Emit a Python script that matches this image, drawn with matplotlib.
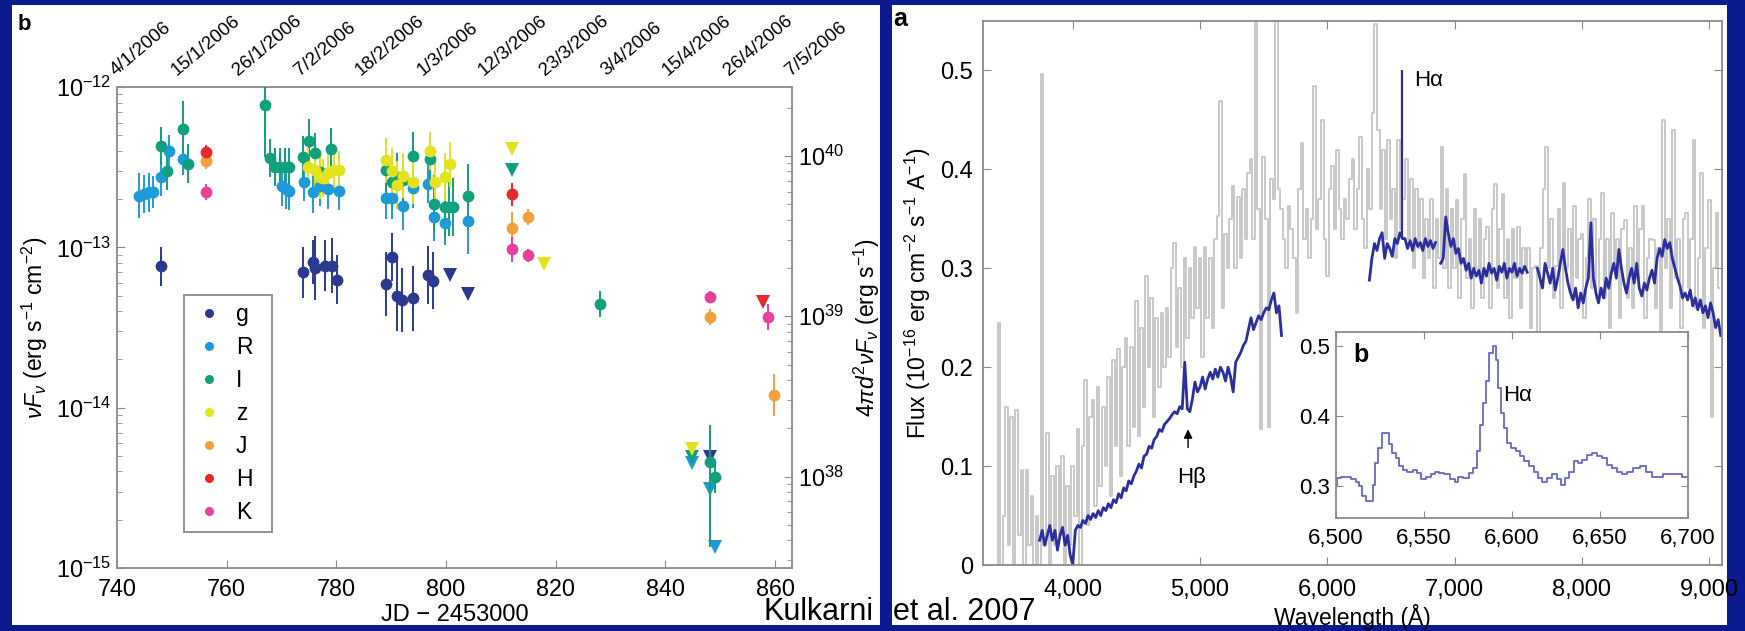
import numpy as np
import matplotlib
matplotlib.use("Agg")
import matplotlib.pyplot as plt
from matplotlib.patches import Rectangle
from matplotlib.lines import Line2D
from matplotlib.transforms import blended_transform_factory
from matplotlib.ticker import FuncFormatter, LogLocator, NullFormatter

plt.rcParams['font.family'] = ['Liberation Sans', 'DejaVu Sans']
plt.rcParams['mathtext.fontset'] = 'custom'
plt.rcParams['mathtext.rm'] = 'Liberation Sans'
plt.rcParams['mathtext.it'] = 'Liberation Sans:italic'
plt.rcParams['mathtext.bf'] = 'Liberation Sans:bold'

# ---------------- panel b (left): light curve ----------------
bands = ['g', 'R', 'I', 'z', 'J', 'H', 'K']
band_colors = ['#2b3990', '#1e9bd7', '#11a07c', '#e4e21e', '#f4a03a', '#e8282b', '#e8409c']

g_jd = [748.1, 774.0, 775.8, 776.1, 777.9, 779.2, 780.1, 789.1, 790.1, 791.0, 791.9, 794.0, 796.8, 797.7]
g_flux = [7.6e-14, 7.0e-14, 8.1e-14, 7.4e-14, 7.7e-14, 7.7e-14, 6.3e-14, 5.9e-14, 8.7e-14, 5.0e-14,
          4.7e-14, 4.8e-14, 6.7e-14, 6.2e-14]
g_err = [0.12, 0.16, 0.14, 0.2, 0.16, 0.17, 0.15, 0.2, 0.15, 0.22, 0.2, 0.2, 0.18, 0.18]
g_ul_jd = [800.7, 804.1, 848.2]
g_ul_flux = [6.7e-14, 5.1e-14, 4.9e-15]

R_jd = [744.1, 745.0, 745.8, 746.5, 748.1, 749.4, 752.1, 770.0, 770.8, 771.4, 774.1, 775.8, 777.0,
        778.5, 780.4, 789.1, 790.1, 792.1, 794.0, 796.8, 797.9, 799.8, 804.1]
R_flux = [2.1e-13, 2.15e-13, 2.2e-13, 2.22e-13, 2.75e-13, 4.0e-13, 3.55e-13, 2.4e-13, 2.3e-13, 2.24e-13,
          2.57e-13, 2.2e-13, 2.4e-13, 2.3e-13, 2.24e-13, 2.04e-13, 2.04e-13, 1.8e-13, 2.33e-13, 2.5e-13,
          1.55e-13, 1.42e-13, 1.45e-13]
R_err = [0.14, 0.12, 0.12, 0.1, 0.12, 0.1, 0.1, 0.12, 0.12, 0.12, 0.12, 0.13, 0.12, 0.12, 0.12, 0.13,
         0.13, 0.15, 0.12, 0.12, 0.15, 0.14, 0.2]
R_ul_jd = [844.9, 848.2, 849.0]
R_ul_flux = [4.5e-15, 3.1e-15, 1.35e-15]

I_jd = [748.1, 749.2, 752.1, 753.0, 767.0, 767.9, 768.8, 769.7, 770.6, 771.4, 774.0, 775.1, 776.1,
        777.0, 779.0, 789.1, 790.1, 791.0, 792.1, 794.0, 797.0, 797.8, 799.8, 800.6, 801.2, 804.1,
        828.0, 848.2, 849.0]
I_flux = [4.3e-13, 3.0e-13, 5.5e-13, 3.33e-13, 7.7e-13, 3.6e-13, 3.17e-13, 3.17e-13, 3.17e-13, 3.17e-13,
          3.67e-13, 4.6e-13, 3.9e-13, 2.95e-13, 4.1e-13, 3.05e-13, 2.57e-13, 2.75e-13, 2.63e-13, 3.7e-13,
          3.58e-13, 1.86e-13, 1.78e-13, 1.78e-13, 1.78e-13, 2.1e-13, 4.45e-14, 4.6e-15, 3.7e-15]
I_err_lo = [0.12, 0.12, 0.17, 0.12, 0.32, 0.12, 0.12, 0.12, 0.12, 0.12, 0.13, 0.14, 0.12, 0.12, 0.13,
            0.15, 0.15, 0.15, 0.15, 0.15, 0.15, 0.18, 0.18, 0.18, 0.18, 0.2, 0.08, 0.53, 0.1]
I_err_hi = [0.12, 0.12, 0.17, 0.12, 0.25, 0.12, 0.12, 0.12, 0.12, 0.12, 0.13, 0.14, 0.12, 0.12, 0.13,
            0.15, 0.15, 0.15, 0.15, 0.15, 0.15, 0.18, 0.18, 0.18, 0.18, 0.2, 0.08, 0.23, 0.1]
I_ul_jd = [812.0, 844.9]
I_ul_flux = [3.05e-13, 4.9e-15]

z_jd = [774.9, 776.1, 777.0, 777.6, 778.5, 779.5, 780.4, 789.1, 790.1, 791.0, 792.1, 794.0, 797.0,
        798.0, 799.8, 800.7]
z_flux = [3.15e-13, 3.03e-13, 2.75e-13, 2.7e-13, 2.9e-13, 3.03e-13, 3.03e-13, 3.5e-13, 3.0e-13, 2.45e-13,
          2.8e-13, 2.57e-13, 4.0e-13, 2.57e-13, 2.75e-13, 3.3e-13]
z_err = [0.12, 0.12, 0.14, 0.12, 0.13, 0.12, 0.12, 0.14, 0.14, 0.15, 0.14, 0.14, 0.12, 0.15, 0.15, 0.14]
z_ul_jd = [812.0, 817.9, 844.9]
z_ul_flux = [4.1e-13, 7.9e-14, 5.5e-15]

J_jd = [756.3, 812.0, 814.9, 848.2, 859.8]
J_flux = [3.45e-13, 1.32e-13, 1.55e-13, 3.67e-14, 1.2e-14]
J_err = [0.05, 0.1, 0.05, 0.05, 0.13]

H_jd = [756.3, 812.0]
H_flux = [3.95e-13, 2.14e-13]
H_err = [0.04, 0.07]
H_ul_jd = [857.8]
H_ul_flux = [4.57e-14]

K_jd = [756.3, 812.0, 814.9, 848.2, 858.7]
K_flux = [2.2e-13, 9.7e-14, 8.9e-14, 4.9e-14, 3.67e-14]
K_err = [0.05, 0.08, 0.04, 0.04, 0.08]

date_labels = ['4/1/2006', '15/1/2006', '26/1/2006', '7/2/2006', '18/2/2006', '1/3/2006',
               '12/3/2006', '23/3/2006', '3/4/2006', '15/4/2006', '26/4/2006', '7/5/2006']
date_jd = [739.5, 750.5, 761.5, 772.5, 783.5, 794.5, 805.5, 816.5, 827.5, 838.5, 849.5, 860.5]

# ---------------- panel a (right): spectrum ----------------
# blue (binned) spectrum, 20 A sampling, four pieces
blue1_start = 3740
blue1_flux = [0.025, 0.035, 0.02, 0.03, 0.04, 0.025, 0.035, 0.015, 0.03, 0.038, 0.02, 0.03, 0.01,
              0.0, 0.035, 0.04, 0.038, 0.045, 0.042, 0.05, 0.046, 0.052, 0.048,
              0.055, 0.05, 0.058, 0.055, 0.062, 0.058, 0.066, 0.063, 0.072, 0.068,
              0.078, 0.075, 0.085, 0.082, 0.09, 0.095, 0.102, 0.098, 0.11, 0.112,
              0.12, 0.118, 0.127, 0.13, 0.137, 0.135, 0.142, 0.145, 0.148, 0.152,
              0.155, 0.153, 0.16, 0.158, 0.205, 0.158, 0.155, 0.168, 0.185, 0.175,
              0.18, 0.19, 0.178, 0.188, 0.195, 0.188, 0.198, 0.19, 0.2, 0.195,
              0.186, 0.2, 0.19, 0.175, 0.205, 0.21, 0.215, 0.222, 0.226, 0.238,
              0.25, 0.238, 0.245, 0.252, 0.248, 0.255, 0.26, 0.258, 0.268, 0.275,
              0.255, 0.262, 0.232]
blue2_start = 6330
blue2_flux = [0.288, 0.31, 0.325, 0.318, 0.33, 0.336, 0.31, 0.325, 0.32, 0.312, 0.33, 0.325, 0.336,
              0.33, 0.33, 0.32, 0.328, 0.318, 0.33, 0.322, 0.326, 0.318, 0.33, 0.322, 0.328, 0.32, 0.326]
blue3_start = 6890
blue3_flux = [0.305, 0.31, 0.352, 0.335, 0.322, 0.33, 0.315, 0.32, 0.305, 0.31,
              0.298, 0.305, 0.29, 0.3, 0.292, 0.298, 0.285, 0.3, 0.292, 0.305,
              0.295, 0.3, 0.288, 0.302, 0.296, 0.305, 0.29, 0.3, 0.296, 0.305,
              0.292, 0.3, 0.295, 0.302, 0.296]
blue4_start = 7650
blue4_flux = [0.3, 0.29, 0.28, 0.305, 0.295, 0.285, 0.3, 0.278, 0.29, 0.305,
              0.319, 0.3, 0.285, 0.275, 0.268, 0.28, 0.26, 0.275, 0.265, 0.28,
              0.29, 0.346, 0.29, 0.275, 0.265, 0.28, 0.27, 0.29, 0.28, 0.295,
              0.305, 0.29, 0.319, 0.3, 0.285, 0.275, 0.29, 0.3, 0.285, 0.305,
              0.28, 0.272, 0.285, 0.278, 0.29, 0.298, 0.285, 0.31, 0.32, 0.312,
              0.329, 0.32, 0.326, 0.31, 0.3, 0.29, 0.282, 0.27, 0.275, 0.268,
              0.278, 0.262, 0.27, 0.258, 0.268, 0.255, 0.262, 0.25, 0.265, 0.255,
              0.24, 0.248, 0.232]
blue_step = 20
halpha_line_wave = 6585
halpha_line_base = 0.33
halpha_line_peak = 0.50

# grey (unbinned, noisy) spectrum, 20 A sampling
grey_start = 3400
grey_step = 20
grey_flux = [0.0, 0.245, 0.0, 0.05, 0.16, 0.02, 0.15, 0.0, 0.157, 0.03,
             0.096, 0.0, 0.096, 0.02, 0.07, 0.0, 0.05, 0.0, 0.496, 0.02,
             0.133, 0.0, 0.09, 0.02, 0.1, 0.03, 0.11, 0.0, 0.08, 0.02,
             0.1, 0.05, 0.137, 0.0, 0.12, 0.187, 0.04, 0.15, 0.167, 0.06,
             0.18, 0.08, 0.16, 0.1, 0.19, 0.07, 0.207, 0.12, 0.218, 0.09,
             0.2, 0.229, 0.12, 0.22, 0.14, 0.267, 0.13, 0.24, 0.16, 0.292,
             0.2, 0.27, 0.15, 0.25, 0.18, 0.255, 0.2, 0.26, 0.21, 0.3,
             0.326, 0.22, 0.28, 0.2, 0.31, 0.23, 0.3, 0.25, 0.322, 0.26,
             0.31, 0.21, 0.322, 0.25, 0.31, 0.24, 0.33, 0.353, 0.469, 0.26,
             0.335, 0.3, 0.35, 0.383, 0.3, 0.372, 0.31, 0.38, 0.33, 0.396,
             0.41, 0.33, 0.56, 0.36, 0.137, 0.413, 0.35, 0.14, 0.39, 0.37,
             0.56, 0.38, 0.36, 0.33, 0.3, 0.363, 0.34, 0.31, 0.255, 0.38,
             0.427, 0.33, 0.36, 0.31, 0.35, 0.484, 0.34, 0.37, 0.45, 0.33,
             0.292, 0.38, 0.403, 0.34, 0.42, 0.36, 0.33, 0.37, 0.35, 0.39,
             0.41, 0.34, 0.38, 0.433, 0.35, 0.32, 0.4, 0.36, 0.457, 0.547,
             0.44, 0.36, 0.42, 0.33, 0.43, 0.35, 0.38, 0.31, 0.43, 0.34,
             0.37, 0.41, 0.33, 0.39, 0.3, 0.38, 0.32, 0.37, 0.29, 0.35,
             0.31, 0.37, 0.28, 0.35, 0.31, 0.423, 0.3, 0.38, 0.28, 0.36,
             0.3, 0.369, 0.27, 0.35, 0.395, 0.29, 0.33, 0.26, 0.36, 0.3,
             0.35, 0.27, 0.33, 0.342, 0.26, 0.36, 0.385, 0.28, 0.34, 0.375,
             0.27, 0.33, 0.25, 0.34, 0.29, 0.342, 0.26, 0.32, 0.3, 0.32,
             0.24, 0.3, 0.302, 0.21, 0.32, 0.38, 0.423, 0.3, 0.35, 0.27,
             0.302, 0.36, 0.26, 0.386, 0.3, 0.34, 0.27, 0.363, 0.29, 0.33,
             0.335, 0.25, 0.31, 0.37, 0.28, 0.35, 0.27, 0.33, 0.376, 0.27,
             0.33, 0.24, 0.356, 0.3, 0.33, 0.25, 0.34, 0.349, 0.27, 0.32,
             0.26, 0.363, 0.29, 0.34, 0.363, 0.25, 0.31, 0.33, 0.329, 0.26,
             0.32, 0.22, 0.45, 0.3, 0.35, 0.26, 0.44, 0.29, 0.33, 0.24,
             0.35, 0.356, 0.28, 0.33, 0.43, 0.26, 0.31, 0.396, 0.24, 0.32,
             0.369, 0.15, 0.3, 0.356, 0.28]

# inset: zoom around H-alpha
inset_wave = [6500, 6501.5, 6504, 6507, 6510, 6512.5, 6514, 6516, 6518, 6520, 6521.5, 6523, 6525,
              6527, 6529.5, 6531, 6533, 6535, 6537, 6539, 6542, 6545, 6547, 6550, 6552.5, 6555,
              6557, 6560, 6563, 6566.5, 6568.5, 6570.5, 6574, 6577, 6579, 6581, 6583, 6584.5,
              6586, 6588, 6590, 6591.5, 6593, 6594.5, 6596, 6598, 6601, 6603.5, 6605.5, 6608,
              6611, 6614, 6616, 6618.5, 6621.5, 6624.5, 6627, 6629, 6631, 6634, 6636, 6638.5,
              6641.5, 6644, 6647, 6650, 6652.5, 6655.5, 6658.5, 6661, 6664, 6667, 6670.5, 6674.5,
              6678, 6681, 6684, 6688, 6693, 6700]
inset_flux = [0.300, 0.312, 0.314, 0.314, 0.310, 0.307, 0.300, 0.286, 0.279, 0.279, 0.302, 0.333,
              0.355, 0.376, 0.376, 0.360, 0.348, 0.340, 0.329, 0.324, 0.321, 0.324, 0.319, 0.310,
              0.314, 0.317, 0.321, 0.319, 0.317, 0.310, 0.307, 0.314, 0.312, 0.319, 0.326, 0.350,
              0.388, 0.419, 0.450, 0.490, 0.500, 0.480, 0.440, 0.405, 0.383, 0.362, 0.355, 0.350,
              0.343, 0.336, 0.329, 0.321, 0.312, 0.307, 0.312, 0.317, 0.310, 0.302, 0.312, 0.321,
              0.336, 0.333, 0.338, 0.345, 0.348, 0.343, 0.340, 0.331, 0.326, 0.321, 0.317, 0.321,
              0.326, 0.329, 0.321, 0.314, 0.314, 0.317, 0.317, 0.314]

# ---------------- layout helpers (image pixel coords) ----------------
W, H = 1745, 631
BG = '#0b1a8e'
SPINE = '#8a8a8a'
BLUE = '#2c2e9e'


def box(x0, y0, x1, y1):
    return [x0 / W, 1 - y1 / H, (x1 - x0) / W, (y1 - y0) / H]


def grey_spines(a):
    for s in a.spines.values():
        s.set_color(SPINE)
        s.set_linewidth(1.3)


def comma(v, pos):
    return f'{int(round(v)):,}'


fig = plt.figure(figsize=(W / 100, H / 100), dpi=100)
fig.patch.set_facecolor(BG)
fig.patches.append(Rectangle((12 / W, 1 - 625 / H), 868 / W, 620 / H, transform=fig.transFigure,
                             facecolor='white', edgecolor='none', zorder=-5))
fig.patches.append(Rectangle((892 / W, 1 - 625 / H), 835 / W, 620 / H, transform=fig.transFigure,
                             facecolor='white', edgecolor='none', zorder=-5))

# ---------------- left panel ----------------
ax = fig.add_axes(box(117, 87, 792, 568))
ax.set_yscale('log')

det = {
    'g': (g_jd, g_flux, g_err, g_err),
    'R': (R_jd, R_flux, R_err, R_err),
    'I': (I_jd, I_flux, I_err_lo, I_err_hi),
    'z': (z_jd, z_flux, z_err, z_err),
    'J': (J_jd, J_flux, J_err, J_err),
    'H': (H_jd, H_flux, H_err, H_err),
    'K': (K_jd, K_flux, K_err, K_err),
}
ulim = {'g': (g_ul_jd, g_ul_flux), 'R': (R_ul_jd, R_ul_flux), 'I': (I_ul_jd, I_ul_flux),
        'z': (z_ul_jd, z_ul_flux), 'H': (H_ul_jd, H_ul_flux)}

handles = []
for name, col in zip(bands, band_colors):
    jd, flux, elo, ehi = det[name]
    flux = np.array(flux)
    lo = flux - flux * 10 ** (-np.array(elo))
    hi = flux * 10 ** np.array(ehi) - flux
    ax.errorbar(jd, flux, yerr=[lo, hi], fmt='o', ms=8.5, color=col, ecolor=col, elinewidth=1.4,
                capsize=0, mew=0, zorder=3)
    if name in ulim:
        ax.plot(ulim[name][0], ulim[name][1], 'v', ms=9.5, color=col, mew=0, zorder=3)
    handles.append(Line2D([], [], marker='o', ls='none', ms=6.5, color=col, mew=0, label=name))

ax.set_xlim(740, 863.1)
ax.set_ylim(1e-15, 1e-12)
ax.set_xticks([740, 760, 780, 800, 820, 840, 860])
ax.yaxis.set_major_locator(LogLocator(base=10, numticks=10))
ax.yaxis.set_minor_locator(LogLocator(base=10, subs=np.arange(2, 10), numticks=20))
ax.yaxis.set_minor_formatter(NullFormatter())
ax.tick_params(which='both', direction='in', color=SPINE, labelsize=16.8, top=False, right=False)
ax.tick_params(which='major', length=6)
ax.tick_params(which='minor', length=3.5)
ax.tick_params(axis='x', pad=7)
ax.tick_params(axis='y', pad=4)
grey_spines(ax)

ax.set_xlabel('JD − 2453000', fontsize=17, va='center')
ax.xaxis.set_label_coords(0.5, -0.098)
ax.set_ylabel(r'$\nu F_\nu$ (erg s$^{-1}$ cm$^{-2}$)', fontsize=16.5, va='center')
ax.yaxis.set_label_coords(-0.121, 0.5)

leg = ax.legend(handles=handles, loc='upper left', bbox_to_anchor=(0.0993, 0.079, 0.1303, 0.4886),
                mode='expand', borderaxespad=0, fontsize=16.5, handlelength=1.4, handletextpad=0.5,
                labelspacing=0.43, borderpad=0.37, fancybox=False, framealpha=1,
                edgecolor=SPINE, numpoints=1)
leg.get_frame().set_linewidth(1.3)

ax2 = ax.twinx()
ax2.set_yscale('log')
ax2.set_ylim(10 ** 37.43, 10 ** 40.43)
ax2.yaxis.set_major_locator(LogLocator(base=10, numticks=10))
ax2.yaxis.set_minor_locator(LogLocator(base=10, subs=np.arange(2, 10), numticks=20))
ax2.yaxis.set_minor_formatter(NullFormatter())
ax2.tick_params(which='both', direction='in', color=SPINE, labelsize=16.8, pad=4)
ax2.tick_params(which='major', length=6)
ax2.tick_params(which='minor', length=3.5)
ax2.set_frame_on(False)
ax2.set_ylabel(r'$4\pi d^2\nu F_\nu$ (erg s$^{-1}$)', fontsize=16.5, va='center')
ax2.yaxis.set_label_coords(1.111, 0.5)

# calendar dates along the top (slanted)
ax3 = ax.twiny()
ax3.set_xlim(739.32, 860.3)
ax3.set_xticks([])
ax3.set_frame_on(False)
date_tr = blended_transform_factory(ax3.transData, ax3.transAxes)
for jd, lab in zip(date_jd, date_labels):
    ax3.text(jd, 1.0 + 8 / 481, lab, transform=date_tr, rotation=40, rotation_mode='anchor',
             ha='left', va='bottom', fontsize=13.5, clip_on=False)

# ---------------- right panel ----------------
axr = fig.add_axes(box(983, 21, 1722, 565))
grey_wave = grey_start + grey_step * np.arange(len(grey_flux))
axr.plot(grey_wave, grey_flux, drawstyle='steps-mid', color='#c8c8c8', lw=1.4, zorder=1)
for start, flux in [(blue1_start, blue1_flux), (blue2_start, blue2_flux),
                    (blue3_start, blue3_flux), (blue4_start, blue4_flux)]:
    wave = start + blue_step * np.arange(len(flux))
    axr.plot(wave, flux, color=BLUE, lw=2.0, zorder=2)
axr.vlines(halpha_line_wave, halpha_line_base, halpha_line_peak, color=BLUE, lw=1.6, zorder=2)

axr.set_xlim(3295, 9100)
axr.set_ylim(0, 0.55)
axr.set_xticks([4000, 5000, 6000, 7000, 8000, 9000])
axr.set_yticks([0, 0.1, 0.2, 0.3, 0.4, 0.5])
axr.xaxis.set_major_formatter(FuncFormatter(comma))
axr.yaxis.set_major_formatter(FuncFormatter(lambda v, p: '0' if v == 0 else f'{v:.1f}'))
axr.tick_params(direction='in', color=SPINE, length=6, labelsize=17, top=True, right=True)
axr.tick_params(axis='x', pad=10)
axr.tick_params(axis='y', pad=7)
grey_spines(axr)
axr.set_xlabel('Wavelength (Å)', fontsize=16.5, va='center')
axr.xaxis.set_label_coords(0.5, -0.0956)
axr.set_ylabel('Flux (10$^{-16}$ erg cm$^{-2}$ s$^{-1}$ A$^{-1}$)', fontsize=16.5, va='center')
axr.yaxis.set_label_coords(-0.088, 0.5)

axr.text(6680, 0.49, 'Hα', fontsize=16, va='center', ha='left')
axr.annotate('', xy=(4906, 0.140), xytext=(4906, 0.116),
             arrowprops=dict(arrowstyle='-|>', color='black', lw=1.0, mutation_scale=13))
axr.text(4935, 0.088, 'Hβ', fontsize=16, va='center', ha='center')

# inset
axi = fig.add_axes(box(1336, 332, 1688, 518))
axi.set_facecolor('white')
axi.plot(inset_wave, inset_flux, drawstyle='steps-mid', color='#6767c6', lw=1.3)
axi.set_xlim(6500, 6700)
axi.set_ylim(0.255, 0.52)
axi.set_xticks([6500, 6550, 6600, 6650, 6700])
axi.set_yticks([0.3, 0.4, 0.5])
axi.xaxis.set_major_formatter(FuncFormatter(comma))
axi.yaxis.set_major_formatter(FuncFormatter(lambda v, p: f'{v:.1f}'))
axi.tick_params(direction='in', color=SPINE, length=5, labelsize=16, top=True, right=True)
axi.tick_params(axis='x', pad=7)
axi.tick_params(axis='y', pad=4)
grey_spines(axi)
axi.text(6595, 0.43, 'Hα', fontsize=16, va='center', ha='left')
axi.text(0.07, 0.876, 'b', transform=axi.transAxes, fontsize=18, fontweight='bold',
         ha='center', va='center')

# panel letters and credit
fig.text(18 / W, 1 - 30 / H, 'b', fontsize=16, fontweight='bold', va='baseline')
fig.text(893 / W, 1 - 26 / H, 'a', fontsize=18, fontweight='bold', va='baseline')
fig.text(874 / W, 11 / H, 'Kulkarni', fontsize=22, ha='right', va='baseline')
fig.text(893 / W, 11 / H, 'et al. 2007', fontsize=22, ha='left', va='baseline')

fig.savefig('out.png', dpi=100, facecolor=BG)
